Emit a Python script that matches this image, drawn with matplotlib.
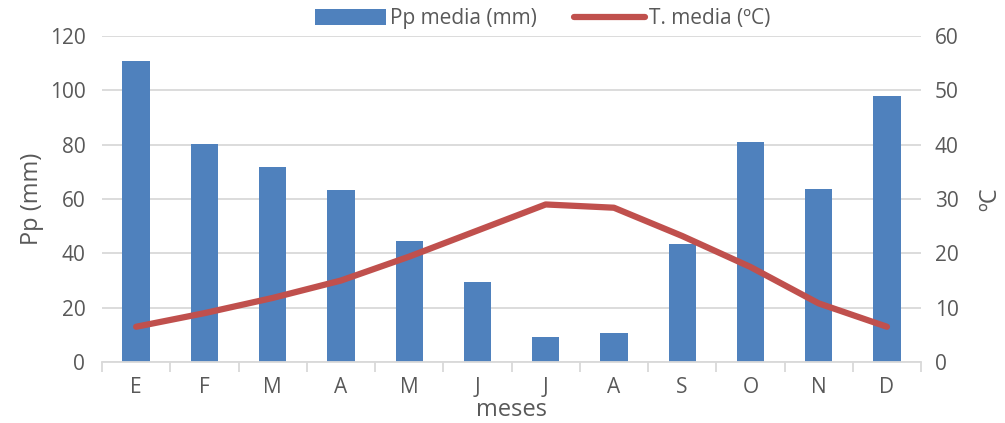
import numpy as np
import matplotlib
matplotlib.use('Agg')
import matplotlib.pyplot as plt

plt.rcParams['font.family'] = ['Open Sans', 'DejaVu Sans']

meses = ['E', 'F', 'M', 'A', 'M', 'J', 'J', 'A', 'S', 'O', 'N', 'D']
pp_media = [110.9, 80.2, 71.8, 63.4, 44.5, 29.3, 9.1, 10.6, 43.4, 81.0, 63.8, 98.0]
t_media = [6.5, 9.0, 11.8, 15.0, 19.4, 24.2, 29.0, 28.4, 23.2, 17.5, 10.8, 6.5]

azul = '#4F81BD'
rojo = '#C0504D'
gris = '#595959'
rejilla = '#D9D9D9'

fig = plt.figure(figsize=(10.05, 4.23), dpi=100)
ax = fig.add_axes([0.1015, 0.144, 0.815, 0.771])
x = np.arange(len(meses))

ax.bar(x, pp_media, width=0.4, color=azul, label='Pp media (mm)', zorder=2)
ax.set_ylim(0, 120)
ax.set_xlim(-0.5, len(meses) - 0.5)
ax.set_yticks(range(0, 121, 20))
ax.yaxis.grid(True, color=rejilla, linewidth=1.3, zorder=0)
ax.set_axisbelow(True)
for s in ['top', 'right', 'left']:
    ax.spines[s].set_visible(False)
ax.spines['bottom'].set_color(rejilla)
ax.spines['bottom'].set_linewidth(1.3)
ax.set_xticks(x)
ax.set_xticklabels(meses)
ax.tick_params(axis='x', length=0, labelsize=15, labelcolor=gris, pad=11)
ax.set_xticks(np.arange(-0.5, len(meses), 1), minor=True)
ax.tick_params(axis='x', which='minor', length=7, color=rejilla, width=1.3)
ax.tick_params(axis='y', length=0, labelsize=15, labelcolor=gris, pad=12)
ax.set_ylabel('Pp (mm)', fontsize=17, color=gris, labelpad=4)
ax.set_xlabel('meses', fontsize=17, color=gris, labelpad=0)

ax2 = ax.twinx()
ax2.plot(x, t_media, color=rojo, linewidth=4.5, solid_capstyle='round',
         label='T. media (ºC)', zorder=3)
ax2.set_ylim(0, 60)
ax2.set_yticks(range(0, 61, 10))
for s in ['top', 'right', 'left', 'bottom']:
    ax2.spines[s].set_visible(False)
ax2.tick_params(axis='y', length=0, labelsize=15, labelcolor=gris, pad=10)
ax2.set_ylabel('ºC', fontsize=17, color=gris, labelpad=14, rotation=90)

h1, l1 = ax.get_legend_handles_labels()
h2, l2 = ax2.get_legend_handles_labels()
fig.legend(h1 + h2, l1 + l2, loc='upper center', bbox_to_anchor=(0.54, 1.025),
           ncol=2, frameon=False, fontsize=15, labelcolor=gris,
           handlelength=3.4, handleheight=0.8, columnspacing=1.8, handletextpad=0.2)

fig.savefig('out.png', dpi=100)
